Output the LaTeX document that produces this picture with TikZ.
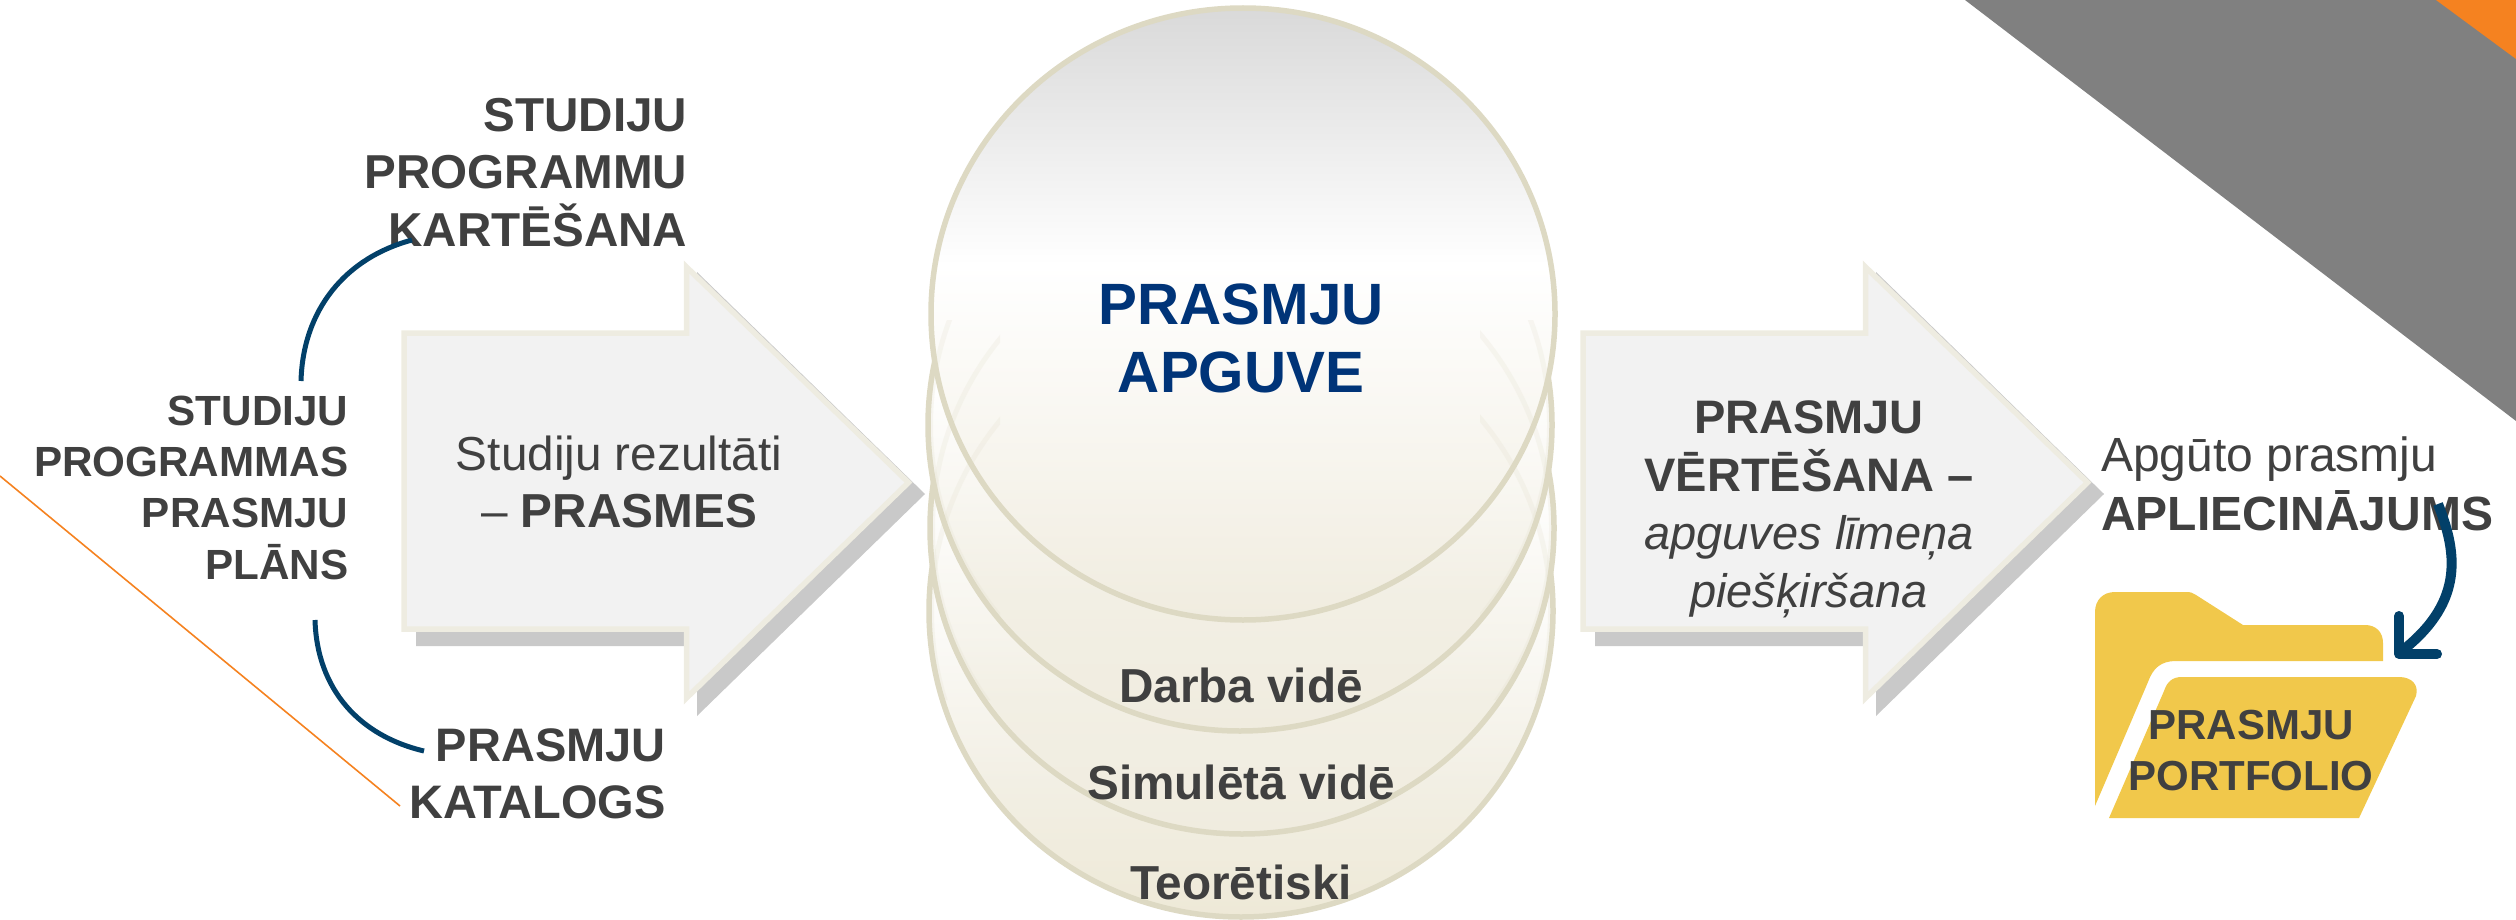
\documentclass[tikz,border=0pt]{standalone}
\usepackage{fontspec}
\setmainfont{Liberation Sans}
\usetikzlibrary{shapes.geometric}
\definecolor{txt}{HTML}{404040}
\definecolor{navy}{HTML}{003478}
\definecolor{curve}{HTML}{024069}
\definecolor{disc line}{HTML}{DDD9C3}
\definecolor{arrow fill}{HTML}{F2F2F2}
\definecolor{arrow line}{HTML}{EEECE1}
\definecolor{arrow shadow}{HTML}{C9C9C9}
\definecolor{folder}{HTML}{F1C84B}
\definecolor{band}{HTML}{808080}
\definecolor{accent}{HTML}{F58220}
\definecolor{discbeige}{HTML}{F0ECDF}
\definecolor{discbase}{HTML}{EEE9D7}
\definecolor{discmid}{HTML}{F2EFE4}
\definecolor{discgrey}{HTML}{D9D9D9}
\pgfdeclareverticalshading{discshade}{100bp}{
  color(0bp)=(discbeige); color(25bp)=(discbeige);
  color(54bp)=(white); color(75bp)=(discgrey); color(100bp)=(discgrey)}
\pgfdeclareverticalshading{lowershade}{100bp}{
  color(0bp)=(discbeige); color(25bp)=(discbeige); color(36bp)=(discmid);
  color(54bp)=(white); color(75bp)=(discgrey); color(100bp)=(discgrey)}
\pgfdeclareverticalshading{baseshade}{100bp}{
  color(0bp)=(discbase); color(25bp)=(discbase); color(36bp)=(discmid);
  color(54bp)=(white); color(75bp)=(discgrey); color(100bp)=(discgrey)}
\newcommand\fs[2]{\fontsize{#1}{#2}\selectfont}
\newcommand\bigarrow[2]{%
  \begin{scope}[shift={(#1,#2)}]
    \fill[arrow shadow] (416,345) -- (697,345) -- (697,272) -- (925,494) -- (697,716) -- (697,646) -- (416,646) -- cycle;
    \draw[arrow line,fill=arrow fill,line width=5.5pt,miter limit=10]
      (404,333) -- (686.5,333) -- (686.5,267) -- (908.5,482.5) -- (686.5,698) -- (686.5,629) -- (404,629) -- cycle;
  \end{scope}}
\tikzset{
  disc/.style={ellipse,draw=disc line,line width=5.5pt,shading=discshade,
    minimum width=624pt,minimum height=612pt,inner sep=0pt},
  ghost/.style={disc line,line width=5pt,opacity=0.18},
  label/.style={inner sep=0pt,text=txt,font=\fs{47.7}{57}\bfseries},
  link/.style={draw=curve,line width=5pt},
  folderpart/.style={fill=folder,draw=none}
}
\begin{document}
\begin{tikzpicture}[x=1pt,y=-1pt]
\useasboundingbox (0,0) rectangle (2516,920);
% corner decoration
\fill[band] (1965,0) -- (2516,421) -- (2516,0) -- cycle;
\fill[accent] (2436,0) -- (2516,59) -- (2516,0) -- cycle;
\coordinate (o1) at (0,476);
\coordinate (o2) at (400,806);
\draw[accent,line width=1.6pt] (o1) -- (o2);
% arrows
\bigarrow{0}{0}
\bigarrow{1179}{0}
% discs
\node[disc,shading=baseshade] (d4) at (1241,611) {};
\node[disc,shading=lowershade] (d3) at (1242,528) {};
\node[disc,shading=lowershade] (d2) at (1240,425) {};
\node[disc] (d1) at (1243,314) {};
% lower rims showing faintly through the discs above them
\begin{scope}
  \clip (920,320) rectangle (1000,700) (1480,320) rectangle (1560,700);
  \foreach \d in {d2,d3,d4}
    \draw[ghost] (\d.center) ellipse [x radius=309.5, y radius=303.5];
\end{scope}
% disc texts
\node[label,anchor=base,text=navy,font=\fs{58.3}{68}\bfseries] (t1a) at (1241,324) {PRASMJU};
\node[label,anchor=base,text=navy,font=\fs{58.3}{68}\bfseries] (t1b) at (1241,392) {APGUVE};
\node[label,anchor=base] (t2) at (1241,702) {Darba vidē};
\node[label,anchor=base] (t3) at (1241,799) {Simulētā vidē};
\node[label,anchor=base] (t4) at (1241,899) {Teorētiski};
% left texts
\node[label,anchor=base east,align=right,font=\fs{47.6}{57.5}\bfseries] (map) at (687.5,246)
  {STUDIJU\\PROGRAMMU\\KARTĒŠANA};
\node[label,anchor=base east,align=right,font=\fs{42.2}{51.3}\bfseries] (plan) at (348.5,579)
  {STUDIJU\\PROGRAMMAS\\PRASMJU\\PLĀNS};
\node[label,anchor=base east,align=right,font=\fs{47}{56.5}\bfseries] (cat) at (666,818)
  {PRASMJU\\KATALOGS};
\node[label,anchor=base,align=center,font=\fs{47.7}{57}\mdseries] (res) at (619,527)
  {Studiju rezultāti\\– \textbf{PRASMES}};
% right arrow text
\node[label,anchor=base,align=center,font=\fs{47}{58}\mdseries] (eval) at (1809,607)
  {\textbf{PRASMJU}\\\textbf{VĒRTĒŠANA –}\\\textit{apguves līmeņa}\\\textit{piešķiršana}};
\node[label,anchor=base west,align=left,font=\fs{48}{58.5}\mdseries] (cert) at (2101,530)
  {Apgūto prasmju\\\textbf{APLIECINĀJUMS}};
% folder
\fill[folderpart] (2095,806) -- (2095,612) .. controls (2095,600) and (2103,592) .. (2115,592)
  -- (2186,592) .. controls (2191,592) and (2193,593) .. (2196,595)
  -- (2243,625) -- (2365,625) .. controls (2376,625) and (2383,632) .. (2383,643)
  -- (2383,661) -- (2176,661) .. controls (2161,661) and (2153,668) .. (2148,682) -- cycle;
\fill[folderpart] (2109,818) -- (2164,691) .. controls (2167,682) and (2172,677) .. (2182,677)
  -- (2399,677) .. controls (2412,677) and (2419,685) .. (2416,696)
  -- (2359,818) -- cycle;
\node[label,anchor=base,align=center,font=\fs{42}{51}\bfseries] (port) at (2251,790)
  {PRASMJU\\PORTFOLIO};
% connectors
\coordinate (c1) at (301,381);
\coordinate (c2) at (412,240);
\coordinate (c3) at (315,620);
\coordinate (c4) at (424,751);
\coordinate (c5) at (2438,504);
\coordinate (c6) at (2403,650);
\draw[link] (c1) .. controls (303,310) and (345,258) .. (c2);
\draw[link] (c3) .. controls (317,690) and (360,736) .. (c4);
\draw[curve,line width=10pt] (c5) .. controls (2456,550) and (2466,600) .. (c6);
\draw[curve,line width=10pt,line cap=round,line join=round] (2399,616) -- (2399,654) -- (2437,654);
\end{tikzpicture}
\end{document}
